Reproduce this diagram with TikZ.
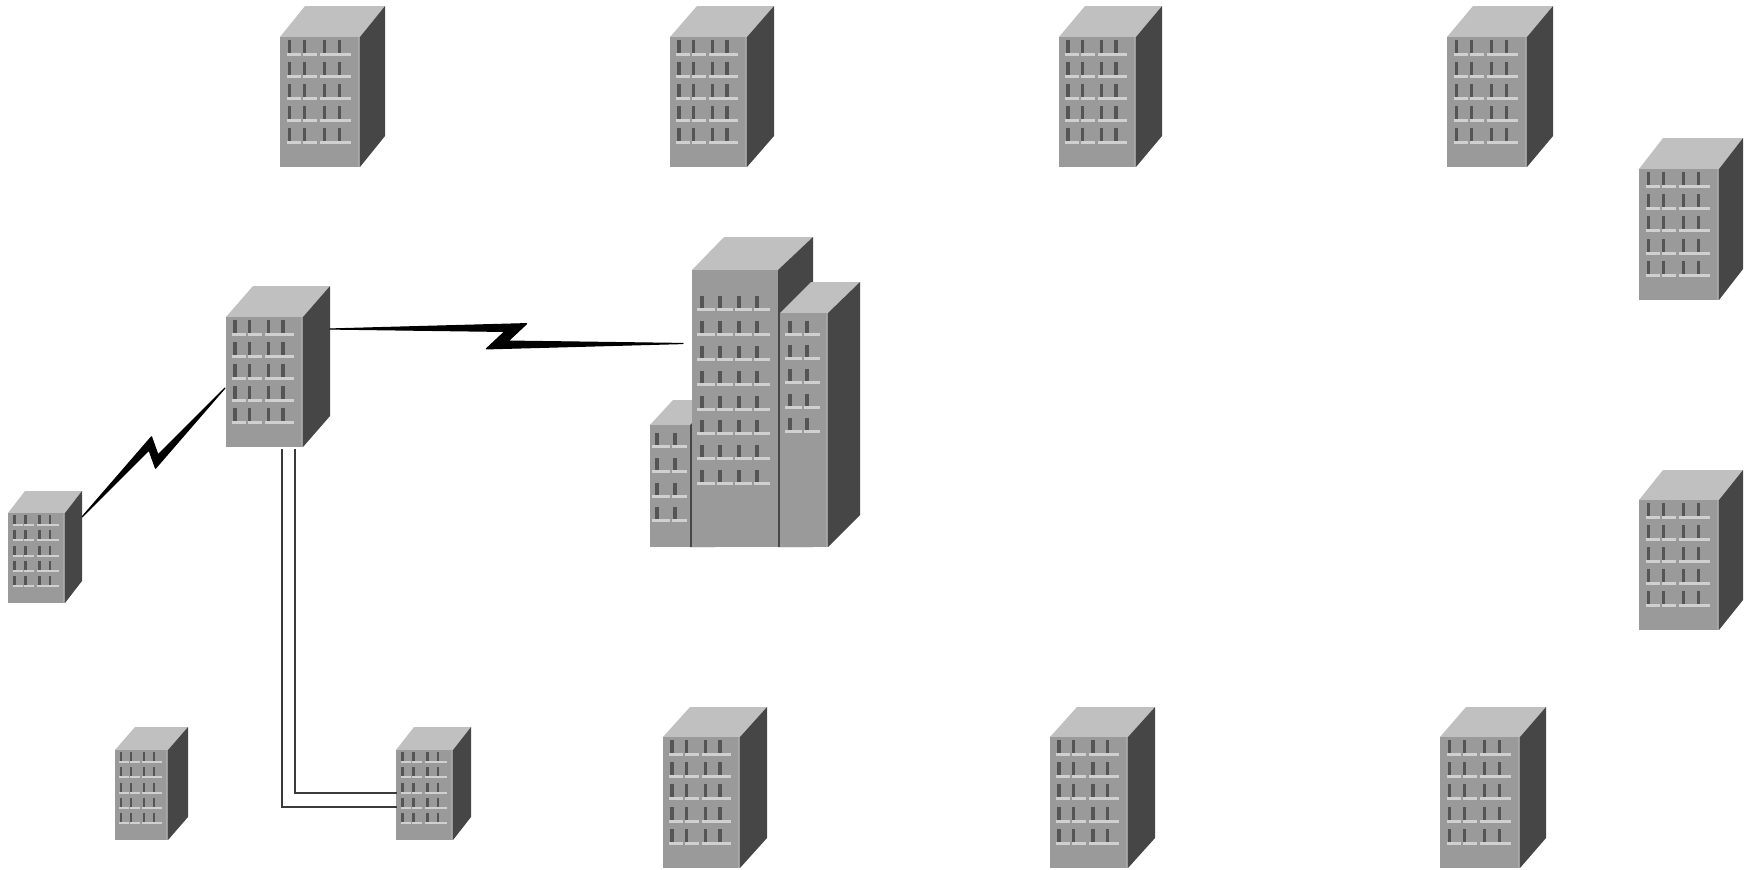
\documentclass[tikz,border=0pt]{standalone}
\usetikzlibrary{calc,fit}

\definecolor{roofc}{HTML}{C0C0C0}
\definecolor{frontc}{HTML}{9A9A9A}
\definecolor{sidec}{HTML}{464646}
\definecolor{edgec}{HTML}{A8A8A8}
\definecolor{barc}{HTML}{555555}
\definecolor{sillc}{HTML}{D0D0D0}
\definecolor{cablec}{HTML}{3A3A3A}

\tikzset{
  roof/.style={fill=roofc},
  front/.style={fill=frontc},
  side/.style={fill=sidec},
  edge/.style={fill=edgec},
  winbar/.style={fill=barc},
  sill/.style={fill=sillc},
  hotspot/.style={inner sep=0pt, outer sep=0pt},
  boltline/.style={fill=black, draw=black, line width=0.6pt, line join=round},
  cable/.style={draw=cablec, line width=0.65pt}
}

% office block: name, x, y (top-left of the front face), front width, front height, depth dx, dy
\newcommand\officeblock[7]{%
  \begin{scope}[shift={(#2,#3)}]
    \fill[roof] (0,0) -- (#6,-#7) -- ({#4+#6},-#7) -- (#4,0) -- cycle;
    \fill[side] (#4,0) -- ({#4+#6},-#7) -- ({#4+#6},{#5-#7}) -- (#4,#5) -- cycle;
    \fill[front] (0,0) rectangle (#4,#5);
    \fill[edge] ({#4-2.5},0) rectangle ({#4-1},#5);
    \begin{scope}[xscale=#4/80, yscale=#5/130]
      \foreach \s in {16,38,60,82,104} {
        \foreach \b in {7.5,22.5,42.5,57.5}
          \fill[winbar] (\b,{\s-13}) rectangle ({\b+3.5},\s);
        \fill[sill] (6.5,\s) rectangle (21,{\s+3});
        \fill[sill] (22.5,\s) rectangle (37,{\s+3});
        \fill[sill] (40,\s) rectangle (71,{\s+3});
      }
    \end{scope}
  \end{scope}
  \node[hotspot, fit={(#2,{#3-#7}) ({#2+#4+#6},{#3+#5})}] (#1) {};%
}

% zigzag serial link between two points: start, end, half span of the zig, zig height
\newcommand\seriallink[4]{%
  \path (#1) coordinate (zA) (#2) coordinate (zB);
  \path ($(zA)!0.5!(zB)$) coordinate (zM);
  \path ($(zM)!#3!(zB)$) coordinate (zF)
        ($(zM)!#3!(zA)$) coordinate (zR)
        ($(zM)!0.85pt!(zB)$) coordinate (zf)
        ($(zM)!0.85pt!(zA)$) coordinate (zr);
  \path ($(zF)!#4!90:(zB)$) coordinate (zP1)
        ($(zR)!#4!90:(zA)$) coordinate (zP2)
        ($(zf)!2.4pt!-90:(zB)$) coordinate (zI1)
        ($(zr)!2.4pt!-90:(zA)$) coordinate (zI2);
  \filldraw[boltline] (zA) -- (zP1) -- (zI1) -- (zB) -- (zP2) -- (zI2) -- cycle;%
}

\begin{document}
\begin{tikzpicture}[x=0.5pt, y=-0.5pt]
  \useasboundingbox (0,0) rectangle (1746,869);

  % top row
  \officeblock{t1}{280}{37}{80}{130}{25}{31}
  \officeblock{t2}{670}{37}{77}{130}{27}{31}
  \officeblock{t3}{1059}{37}{77}{130}{26}{31}
  \officeblock{t4}{1447}{37}{80}{130}{26}{31}
  % right column
  \officeblock{r1}{1639}{169}{80}{131}{24}{31}
  \officeblock{r2}{1639}{500}{80}{130}{24}{30}
  % bottom row
  \officeblock{b1}{663}{737}{77}{131}{27}{30}
  \officeblock{b2}{1050}{737}{78}{131}{27}{30}
  \officeblock{b3}{1440}{737}{80}{131}{26}{30}
  % hub and small branch offices
  \officeblock{hub}{226}{317}{77}{130}{27}{31}
  \officeblock{ls}{8}{513}{57}{90}{17}{22}
  \officeblock{bl}{115}{750}{53}{90}{20}{23}
  \officeblock{br}{396}{750}{57}{90}{18}{23}

  % headquarters: three towers
  \begin{scope}
    % low tower on the left
    \fill[roof] (650,425) -- (673,400) -- (715,400) -- (690,425) -- cycle;
    \fill[side] (690,425) -- (715,400) -- (715,547) -- (690,547) -- cycle;
    \fill[front] (650,425) rectangle (690,547);
    \foreach \s in {445,470,495,519} {
      \foreach \b in {655,673}
        \fill[winbar] (\b,{\s-12}) rectangle ({\b+3.5},\s);
      \fill[sill] (652,\s) rectangle (670,{\s+3});
      \fill[sill] (672,\s) rectangle (687,{\s+3});
    }
    % tall tower
    \fill[roof] (692,270) -- (724,237) -- (813,237) -- (778,270) -- cycle;
    \fill[side] (778,270) -- (813,237) -- (813,547) -- (778,547) -- cycle;
    \fill[front] (692,270) rectangle (778,547);
    \foreach \s in {308,333,358,383,408,432,457,482} {
      \foreach \b in {700,718,737,755}
        \fill[winbar] (\b,{\s-12}) rectangle ({\b+3.5},\s);
      \fill[sill] (697,\s) rectangle (715,{\s+3});
      \fill[sill] (717,\s) rectangle (733,{\s+3});
      \fill[sill] (735,\s) rectangle (752,{\s+3});
      \fill[sill] (754,\s) rectangle (770,{\s+3});
    }
    % right tower
    \fill[roof] (780,313) -- (811,282) -- (860,282) -- (828,313) -- cycle;
    \fill[side] (828,313) -- (860,282) -- (860,515) -- (828,547) -- cycle;
    \fill[front] (780,313) rectangle (828,547);
    \fill[edge] (825.5,313) rectangle (827,547);
    \foreach \s in {333,357,381,406,430} {
      \foreach \b in {788,805}
        \fill[winbar] (\b,{\s-12}) rectangle ({\b+3.5},\s);
      \fill[sill] (785,\s) rectangle (802,{\s+3});
      \fill[sill] (804,\s) rectangle (820,{\s+3});
    }
  \end{scope}
  \node[hotspot, fit={(650,236) (861,547)}] (hq) {};

  % serial links
  \seriallink{$(ls.east)+(0,-30)$}{$(hub.west)+(-1,21.5)$}{4.5pt}{6.5pt}
  \seriallink{$(hub.east)+(0,-37.5)$}{$(hq.west)+(33,-48)$}{9.8pt}{6.7pt}

  % leased line pair to the branch office
  \draw[cable] ($(hub.south)+(4,2)$) |- ($(br.west)+(1,23.5)$);
  \draw[cable] ($(hub.south)+(17,2)$) |- ($(br.west)+(1,9.5)$);
\end{tikzpicture}
\end{document}
